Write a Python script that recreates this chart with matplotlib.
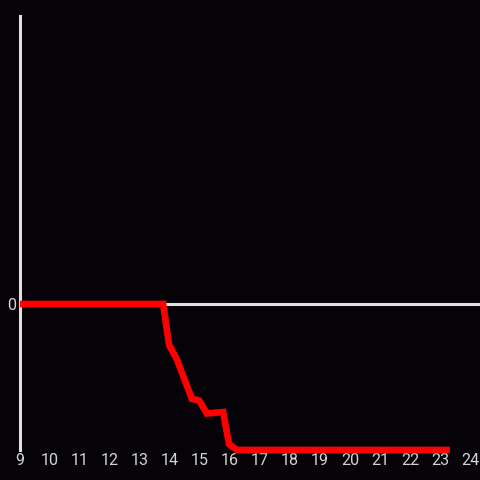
import matplotlib
matplotlib.use("Agg")
import matplotlib.pyplot as plt

plt.rcParams["font.family"] = ["Roboto", "DejaVu Sans"]

# ---------- data ----------
hours = [9.0, 13.77, 13.97, 14.23, 14.73, 14.97, 15.23, 15.77, 15.97, 16.23, 23.33]
values = [0.0, 0.0, -0.28, -0.38, -0.65, -0.66, -0.75, -0.74, -0.96, -1.0, -1.0]
xticks = list(range(9, 25))

BG = "#050307"
AXIS = "#e0e0e0"
TEXT = "#d4d4d4"

fig = plt.figure(figsize=(4.8, 4.8), dpi=100, facecolor=BG)
ax = fig.add_axes([20 / 480, 30 / 480, 460 / 480, 434 / 480], facecolor=BG)

ax.set_xlim(9, 24.333)
ax.set_ylim(-1, 288 / 146)

# zero line and left axis
ax.axhline(0, color=AXIS, lw=2.2, zorder=1)
for side in ("top", "right", "bottom"):
    ax.spines[side].set_visible(False)
ax.spines["left"].set_color(AXIS)
ax.spines["left"].set_linewidth(2.2)

ax.plot(hours, values, color="#ff0000", lw=4.8, solid_joinstyle="miter",
        solid_capstyle="butt", zorder=3, clip_on=False)

ax.set_xticks(xticks)
ax.set_xticklabels([str(t) for t in xticks])
ax.set_yticks([0])
ax.set_yticklabels(["0"])
ax.tick_params(axis="both", length=0, colors=TEXT, labelsize=11.5)
ax.tick_params(axis="x", pad=2.5)
ax.tick_params(axis="y", pad=3)

fig.savefig("out.png", dpi=100, facecolor=BG)
